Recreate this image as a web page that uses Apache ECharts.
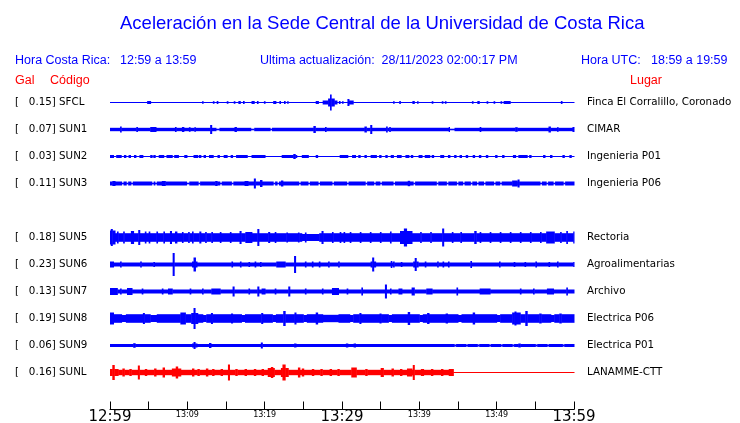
<!DOCTYPE html>
<html><head><meta charset="utf-8">
<script src="https://cdn.jsdelivr.net/npm/echarts@6/dist/echarts.min.js"></script>
<style>html,body{margin:0;padding:0;background:#fff}#c{width:740px;height:423px}</style>
</head><body><div id="c"></div>
<script>
// ---- data ----
const stationOrder = ['SFCL','SUN1','SUN2','SUN3','SUN4','SUN5','SUN6','SUN7','SUN8','SUN9','SUNL'];
const codes  = ['SFCL','SUN1','SUN2','SUN3','SUN5','SUN6','SUN7','SUN8','SUN9','SUNL'];
const gal    = [0.15, 0.07, 0.03, 0.11, 0.18, 0.23, 0.13, 0.19, 0.06, 0.16];
const places = ['Finca El Corralillo, Coronado','CIMAR','Ingenieria P01','Ingenieria P06','Rectoria','Agroalimentarias','Archivo','Electrica P06','Electrica P01','LANAMME-CTT'];
const baseLevel = [0, 1.2, 0, 1.5, 3.8, 1.5, 1.5, 3.8, 1.0, 2.2];
const tickMinutes = [0, 10, 20, 30, 40, 50, 60];
const tickLabels = ['12:59','13:09','13:19','13:29','13:39','13:49','13:59'];

// events: [startMinute, endMinute, halfAmplitude]
const sfclEvents = [[4.8,5.2,1],[11.9,12.0,0.8],[13.3,13.4,0.8],[13.8,13.9,1],[15.1,15.2,0.8],[16.0,16.1,0.8],[16.6,16.8,1],[17.2,17.3,1],[18.3,18.6,1],[19.0,19.1,1],[19.9,20.0,0.8],[21.1,21.4,1],[21.9,22.0,1],[22.5,22.6,1],[22.9,23.0,0.8],[26.6,26.9,1],[27.5,28.2,1.5],[28.2,28.45,3.5],[28.45,28.6,7.5],[28.6,29.0,3.5],[29.0,29.3,1.5],[29.6,29.7,1],[30.0,30.1,0.8],[30.7,30.9,3],[30.9,31.4,1.5],[36.6,36.7,0.8],[37.4,37.5,1],[39.1,39.3,1],[39.7,39.8,0.8],[41.6,41.7,0.8],[42.9,43.0,0.8],[43.3,43.4,0.8],[46.8,46.9,0.8],[47.5,47.7,1],[48.7,48.8,0.8],[49.6,49.7,0.8],[50.5,50.6,0.8],[50.9,51.7,1],[58.3,58.4,1]];
const sun1Events = [[1.3,1.4,2.5],[3.4,3.5,2],[5.2,5.9,2],[8.4,8.5,2],[9.3,9.5,2],[10.2,10.3,1.8],[10.9,11.0,1.8],[12.95,13.1,4],[13.7,14.1,0.3],[16.1,16.3,2],[18.2,18.6,0.3],[20.7,20.9,0.3],[26.3,26.5,3],[27.8,27.9,2],[32.9,33.1,2.5],[33.65,33.8,4],[35.7,35.8,2.5],[36.1,36.2,2],[43.8,43.9,2],[43.9,44.5,0.3],[47.8,47.9,2],[52.4,52.6,1.8],[56.7,56.9,2.5],[57.8,57.9,1.8],[59.8,60,2]];
const sun2Events = [[0,0.4,1],[0.8,1.4,1],[1.8,2.0,1],[2.4,2.6,1],[3.1,3.3,1],[3.8,4.2,1],[5.2,5.4,1],[5.6,5.8,1],[6.3,6.9,1],[7.3,8.0,1],[8.3,8.8,1],[9.6,9.9,1],[10.8,11.3,1],[11.5,11.7,1],[12.1,12.3,1],[12.8,13.3,1],[13.9,14.1,1],[14.7,15.1,1],[15.6,15.8,1],[16.3,17.7,1],[18.3,20.0,1],[22.2,24.1,1],[23.7,23.9,2],[24.8,25.6,1],[26.6,26.8,1],[29.7,30.4,1],[30.5,30.7,1],[31.3,31.7,1],[32.1,32.3,1],[32.9,33.1,1],[33.7,34.4,1],[34.8,35.0,1],[35.6,35.8,1],[36.3,36.6,1],[37.1,37.6,1],[38.2,38.6,1],[38.9,39.1,1],[39.9,40.3,1],[40.7,41.3,1],[41.6,41.8,1],[42.7,43.1,1],[43.7,43.9,1],[44.5,44.7,1],[45.2,45.4,1],[46.0,46.2,1],[46.9,47.1,1],[47.7,47.9,1],[48.6,48.8,1],[49.8,50.0,1],[50.7,50.9,1],[52.1,52.4,1],[52.8,53.9,1],[54.2,54.4,1],[56.0,56.2,1],[56.9,57.1,1],[58.5,58.7,1],[59.4,59.6,1]];
const sun3Events = [[0.3,0.6,2],[1.5,1.7,0.3],[2.1,2.3,0.3],[2.7,2.9,0.3],[5.4,5.6,0.3],[5.8,6.0,0.3],[6.7,7.1,2],[9.9,10.2,0.3],[11.4,11.6,0.3],[13.6,13.8,2],[14.2,14.4,0.3],[15.7,15.9,0.3],[17.4,17.8,2],[18.6,18.75,4.5],[19.4,19.6,3],[21.1,21.3,0.3],[21.6,21.8,0.3],[22.1,22.3,2.5],[24.4,24.6,0.3],[25.6,25.8,0.3],[26.9,27.1,0.3],[28.7,28.9,0.3],[30.6,30.8,0.3],[33.0,33.2,0.3],[34.1,34.3,0.3],[34.9,35.1,0.3],[36.6,36.8,0.3],[38.5,38.7,2.2],[39.2,39.4,0.3],[42.2,42.4,0.3],[43.5,43.7,0.3],[44.8,45.0,0.3],[45.6,45.8,0.3],[46.6,46.8,0.3],[47.4,47.6,0.3],[48.3,48.5,0.3],[49.6,49.8,0.3],[50.4,50.6,0.3],[52.0,52.6,2.5],[52.7,52.85,3.5],[55.6,55.8,0.3],[56.4,56.6,0.3],[57.3,57.5,0.3],[58.6,58.8,0.3]];
const sun5Events = [[0,0.6,6.5],[0.1,0.25,8],[0.9,1.0,5.5],[1.7,1.8,5.5],[2.7,3.0,6],[3.65,3.8,7],[4.5,4.6,5.5],[5.0,5.1,5.5],[6.0,6.1,5.5],[6.9,7.0,5.5],[7.75,7.9,6],[8.4,8.6,5.5],[9.3,9.4,5],[10.1,10.2,5],[10.6,10.7,5.5],[11.55,11.7,5.5],[12.3,12.4,5],[13.1,13.2,5],[14.2,14.3,5],[15.5,15.6,5],[16.75,16.9,6],[17.5,18.3,5],[19.05,19.2,8],[20.45,20.6,5],[21.3,21.4,5],[22.8,22.9,4.5],[24.3,24.4,4.5],[24.8,27.0,3],[25.2,25.3,4.5],[27.35,27.5,6],[28.7,28.8,5],[29.7,29.8,5],[30.2,30.3,5],[31.0,31.1,5],[32.3,32.4,5],[33.6,33.7,5],[34.9,35.0,5],[36.2,36.3,5.5],[37.5,39.0,6],[38.0,38.3,8.5],[40.1,40.2,5],[41.4,41.5,5],[42.95,43.1,8.5],[44.2,44.3,5],[45.3,45.4,5],[47.1,47.3,6],[47.8,47.9,5],[49.1,49.2,5],[50.4,50.5,5],[51.7,51.8,5],[53.0,53.1,5],[54.3,54.4,5],[55.6,55.7,5],[56.4,57.4,5.5],[58.2,58.3,5],[59.0,59.1,6],[59.9,60,5.5]];
const sun6Events = [[0,0.4,2.5],[1.3,1.4,2.5],[3.9,4.0,2.5],[5.6,5.7,2],[8.1,8.25,11],[10.6,11.2,2.5],[10.8,11.0,6.5],[15.7,15.8,2.5],[16.8,16.9,2.5],[17.9,18.0,2],[18.7,18.8,2.5],[19.4,19.5,2],[21.5,22.6,2.5],[23.8,23.95,8],[25.2,25.3,2.5],[26.1,26.2,2.5],[27.0,27.1,2.5],[28.2,28.3,2.5],[29.5,29.6,2.5],[33.7,34.3,2.5],[33.9,34.05,6.5],[36.3,36.4,3],[36.6,36.7,2.5],[37.6,37.7,2],[39.2,39.8,2.5],[39.4,39.55,6],[40.7,40.8,2.5],[42.3,42.4,2.5],[43.0,43.1,2.5],[43.7,43.8,2.5],[46.6,46.7,3],[50.3,50.4,2.5],[52.2,52.3,2],[53.6,53.7,2],[55.0,55.1,2.5],[56.7,56.8,2],[57.8,57.9,2.5],[59.9,60,2]];
const sun7Events = [[0,0.9,3],[1.3,1.4,2.5],[2.2,2.8,3],[4.1,4.2,2.5],[6.7,6.8,2.5],[7.5,8.0,2.5],[10.3,10.4,2.5],[11.9,12.0,2.5],[13.1,14.2,2.5],[15.85,16.0,4.5],[17.9,18.0,2.5],[19.05,19.2,4.5],[19.6,20.0,2.5],[21.3,21.4,2.5],[23.05,23.2,4.5],[25.2,25.3,2.5],[27.4,27.5,2.5],[28.7,29.5,3],[30.6,30.7,2.5],[32.5,32.6,3.5],[35.55,35.7,6.5],[36.2,36.3,2.5],[37.3,37.7,2.5],[39.0,39.3,3.5],[40.9,41.6,2.5],[44.8,44.9,3.5],[47.8,49.1,2.5],[53.0,53.1,2.5],[54.7,54.8,2.5],[56.5,57.3,2.5],[59.0,59.1,3.5]];
const sun8Events = [[0,0.4,5.5],[1.5,2.0,3],[4.25,4.4,5],[5.2,6.0,3],[9.1,9.7,5.5],[10.5,11.3,5],[10.8,10.95,10],[12.0,12.4,3],[13.05,13.2,5],[15.65,15.8,4.5],[17.0,17.4,3],[19.55,19.7,5],[21.0,21.4,3],[22.4,22.6,7],[23.85,24.0,5.5],[25.0,25.4,3],[26.6,26.8,5.5],[27.5,29.5,3.2],[31.0,31.4,3],[32.25,32.4,5],[34.85,35.0,4.5],[36.0,36.4,3],[38.5,38.7,6],[40.0,40.4,3],[41.0,41.2,5],[43.4,43.6,4.5],[45.0,45.4,3],[46.9,47.1,5.5],[50.0,50.4,3],[52.0,53.0,5.5],[52.3,52.45,6.5],[53.7,53.9,7],[55.5,55.7,4.5],[57.0,57.4,3],[58.1,58.3,4.5]];
const sun9Events = [[3.0,3.2,1.8],[10.6,11.2,1.5],[10.8,10.95,3],[12.8,13.0,2],[19.5,19.65,2.5],[23.8,24.0,1.5],[30.5,30.7,1.5],[31.5,31.7,1.5],[44.5,44.7,0.5],[46.0,46.2,0.5],[47.5,47.7,0.5],[49.0,49.2,0.5],[50.5,50.7,0.5],[52.0,52.2,0.5],[52.8,53.0,1.5],[55.0,55.2,0.5],[56.5,56.7,0.5],[58.5,58.7,0.5]];
const sunlEvents = [[0,1.0,3],[0.3,0.5,7],[1.6,1.8,3.5],[2.5,2.7,3],[3.6,3.75,6.5],[4.5,4.7,3],[5.7,5.9,3.5],[6.8,7.0,4.5],[8.0,9.1,3.5],[8.5,8.7,5.5],[10.6,10.8,3.5],[11.3,11.5,3],[12.4,12.6,3.5],[13.2,13.4,3],[14.3,14.5,3],[15.25,15.4,7.5],[16.2,16.4,3],[17.4,17.6,3],[18.6,18.8,3],[19.6,19.8,3],[20.4,21.2,4],[20.8,21.0,5],[22.1,23.0,4],[22.3,22.6,7.5],[24.3,24.5,4.5],[24.8,25.0,3.5],[26.1,26.3,3],[27.2,27.4,3],[28.4,28.6,3],[29.4,29.6,3],[31.2,31.8,4.5],[33.0,33.2,3],[35.0,35.3,4],[36.4,36.6,3.5],[37.5,37.7,3],[38.4,39.0,3.5],[39.15,39.3,7],[40.2,40.5,3],[41.5,41.7,3],[42.8,43.0,3],[43.8,44.4,3],[44.4,60,0]];
const allEvents = [sfclEvents, sun1Events, sun2Events, sun3Events, sun5Events, sun6Events, sun7Events, sun8Events, sun9Events, sunlEvents];

// ---- build ----
const SLOT = 27;             // amplitude units per trace row
const STEP = 0.05;           // minutes per sample
const ROWS = 11.5;
function ampAt(k, t) {
  let a = baseLevel[k];
  for (const e of allEvents[k]) if (t >= e[0] - 1e-9 && t <= e[1] + 1e-9) a = e[2];
  return a;
}
function buildRuns(k) {
  const row = stationOrder.indexOf(codes[k]) + 0.5;
  const n = Math.round(60 / STEP);
  const runs = [];
  let cur = null;
  for (let i = 0; i < n; i++) {
    const t = i * STEP, a = ampAt(k, t);
    if (cur && cur[3] === a) { cur[1] = Math.min(60, t + STEP); }
    else { cur = [t, Math.min(60, t + STEP), row, a]; runs.push(cur); }
  }
  return runs;
}
function renderRun(color) {
  return function (params, api) {
    const t0 = api.value(0), t1 = api.value(1), row = api.value(2), a = api.value(3);
    const p0 = api.coord([t0, row]), p1 = api.coord([t1, row]);
    const h = api.size([0, (a + 0.5) / SLOT])[1];
    return { type: 'rect', shape: { x: p0[0], y: p0[1] - h, width: p1[0] - p0[0] + 0.5, height: 2 * h },
      style: { fill: color } };
  };
}
const series = codes.map((c, k) => {
  const color = c === 'SUNL' ? '#ff0000' : '#0000ff';
  return { type: 'custom', name: c, data: buildRuns(k), encode: { x: [0, 1], y: 2 },
    renderItem: renderRun(color), silent: true, animation: false, clip: false };
});

function rowLabel(v, left) {
  const idx = v - 0.5;
  if (Math.abs(idx - Math.round(idx)) > 1e-6) return '';
  const code = stationOrder[Math.round(idx)];
  const k = codes.indexOf(code);
  if (k < 0) return '';
  return left ? '[   ' + gal[k].toFixed(2) + '] ' + code : places[k];
}

const blue = '#0000ff', red = '#ff0000';
const hdr = (text, left, top, color, size) => ({ text, left, top, padding: 0,
  textStyle: { fontFamily: 'Liberation Sans', fontWeight: 'normal', fontSize: size, color } });

const chart = echarts.init(document.getElementById('c'), null, { renderer: 'canvas' });
chart.setOption({
  animation: false,
  backgroundColor: '#fff',
  title: [
    hdr('Aceleración en la Sede Central de la Universidad de Costa Rica', 120, 14, blue, 18.5),
    hdr('Hora Costa Rica:', 15, 54, blue, 12.5),
    hdr('12:59 a 13:59', 120, 54, blue, 12.5),
    hdr('Ultima actualización:  28/11/2023 02:00:17 PM', 260, 54, blue, 12.5),
    hdr('Hora UTC:', 581, 54, blue, 12.5),
    hdr('18:59 a 19:59', 651, 54, blue, 12.5),
    hdr('Gal', 15, 74, red, 12.5),
    hdr('Código', 50, 74, red, 12.5),
    hdr('Lugar', 630, 74, red, 12.5)
  ],
  grid: { left: 110, right: 166, top: 89, bottom: 23.5, containLabel: false, outerBoundsMode: 'none' },
  xAxis: {
    type: 'value', min: 0, max: 60, interval: 5, position: 'bottom', offset: 10,
    axisLine: { show: true, onZero: false, lineStyle: { color: '#000', width: 1 } },
    axisTick: { show: true, inside: true, length: 8, lineStyle: { color: '#000' } },
    splitLine: { show: false },
    axisLabel: {
      margin: 0,
      formatter: v => {
        const i = tickMinutes.indexOf(v);
        if (i < 0) return '';
        return (v % 30 === 0 ? '{big|' : '{small|') + tickLabels[i] + '}';
      },
      rich: {
        big: { fontFamily: 'DejaVu Sans', fontSize: 15, color: '#000' },
        small: { fontFamily: 'DejaVu Sans', fontSize: 8, color: '#000', padding: [1, 0, 0, 0] }
      }
    }
  },
  yAxis: [
    { type: 'value', inverse: true, min: 0, max: ROWS, interval: 0.5, position: 'left',
      axisLine: { show: false }, axisTick: { show: false }, splitLine: { show: false },
      axisLabel: { margin: 95, align: 'left', color: '#000', fontFamily: 'DejaVu Sans', fontSize: 10.3,
        formatter: v => rowLabel(v, true) } },
    { type: 'value', inverse: true, min: 0, max: ROWS, interval: 0.5, position: 'right',
      axisLine: { show: false }, axisTick: { show: false }, splitLine: { show: false },
      axisLabel: { margin: 13, align: 'left', color: '#000', fontFamily: 'DejaVu Sans', fontSize: 10.3,
        formatter: v => rowLabel(v, false) } }
  ],
  series
});
</script></body></html>
